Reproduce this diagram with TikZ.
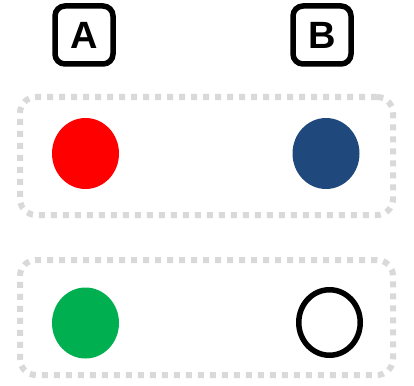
\documentclass[tikz,border=0pt]{standalone}
\usepackage{fontspec}
\setmainfont{Liberation Sans}
\usetikzlibrary{shapes.geometric}
\definecolor{dkblue}{RGB}{31,73,125}
\definecolor{okgreen}{RGB}{0,176,80}
\definecolor{lgray}{RGB}{217,217,217}
\tikzset{
  hdr/.style={draw=black,line width=5.5pt,rounded corners=10pt,minimum width=58pt,
              minimum height=58pt,inner sep=0pt,font=\fontsize{38}{40}\selectfont\bfseries},
  grp/.style={draw=lgray,line width=6pt,dash pattern=on 6pt off 6pt,rounded corners=16pt,
              minimum width=373pt,inner sep=0pt},
  fdot/.style={ellipse,minimum width=67pt,minimum height=71pt,inner sep=0pt},
  odot/.style={ellipse,draw=black,line width=5.5pt,minimum width=61.5pt,minimum height=65.5pt,inner sep=0pt},
}
\begin{document}
\begin{tikzpicture}[x=1pt,y=-1pt]
  \useasboundingbox (0,0) rectangle (414,385);
  \node[hdr] (ha) at (84,35) {A};
  \node[hdr] (hb) at (322,35) {B};
  \node[grp,minimum height=118pt] (row1) at (206.5,156) {};
  \node[grp,minimum height=115pt] (row2) at (206.5,317.5) {};
  \node[fdot,fill=red] (a1) at (85.5,153.5) {};
  \node[fdot,fill=dkblue] (b1) at (326,153.5) {};
  \node[fdot,fill=okgreen] (a2) at (85.5,323) {};
  \node[odot] (b2) at (329.5,322.5) {};
\end{tikzpicture}
\end{document}
